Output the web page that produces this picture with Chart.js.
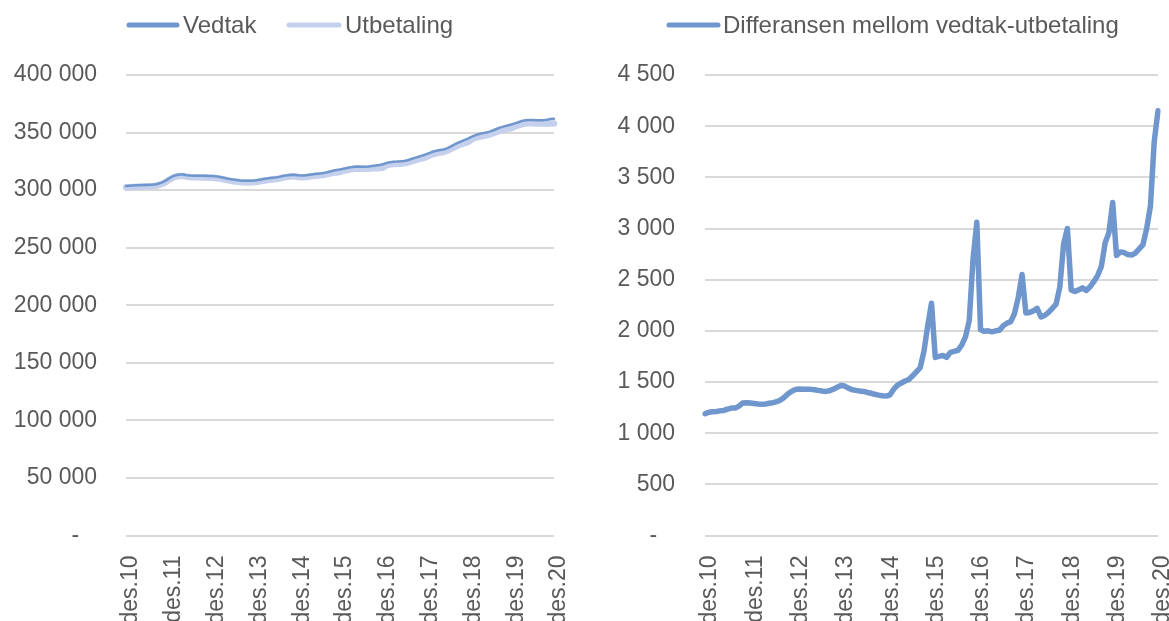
<!DOCTYPE html>
<html><head><meta charset="utf-8">
<script src="https://cdn.jsdelivr.net/npm/chart.js@4/dist/chart.umd.min.js"></script>
<style>
html,body{margin:0;padding:0;background:#fff;overflow:hidden;width:1169px;height:621px;}
#c1{position:absolute;left:0;top:0;}
#c2{position:absolute;left:584px;top:0;}
</style></head><body>
<canvas id="c1" width="584" height="621"></canvas>
<canvas id="c2" width="585" height="621"></canvas>
<script>
// ---- categories ----
const monthNames = ['jan','feb','mar','apr','mai','jun','jul','aug','sep','okt','nov','des'];
const years = ['11','12','13','14','15','16','17','18','19','20'];
const categories = ['des.10'];
years.forEach(y => monthNames.forEach(m => categories.push(m + '.' + y)));

// ---- series (monthly, des.10 .. des.20) ----
const vedtak = [
303500,303800,304000,304200,304300,304400,304500,304600,304800,305500,306500,308000,
310000,311800,313000,313600,313500,313000,312700,312500,312400,312400,312400,312300,
312200,312000,311600,311000,310300,309700,309200,308800,308400,308200,308100,308200,
308400,308800,309300,309800,310300,310700,311000,311500,312200,312800,313200,313400,
313000,312600,312700,313100,313600,314000,314300,314600,315200,316000,316800,317400,
318000,318600,319200,319800,320300,320500,320400,320300,320500,320900,321300,321800,
322500,323500,324300,324700,324800,325000,325300,326000,327000,328000,329000,330000,
331000,332200,333300,334200,334800,335300,336300,337800,339500,341000,342400,343600,
345000,346500,347800,348800,349500,350000,350800,352000,353300,354500,355400,356200,
357000,358000,359000,360000,360700,361000,360900,360700,360700,360800,361200,361700,
362000];
const utbetaling = [
302310,302600,302790,302990,303080,303180,303270,303360,303560,304240,305210,306700,
308710,310510,311720,312320,312220,311710,311400,311190,311080,311050,311020,310890,
310770,310570,310170,309570,308870,308280,307780,307390,306990,306790,306670,306750,
306940,307340,307860,308380,308880,309290,309590,310100,310810,311420,311830,312040,
311640,311230,311270,311630,312110,312490,312780,313040,313600,314360,315000,315350,
315730,316860,317450,318040,318560,318710,318600,318490,318640,318960,319200,319100,
319440,321490,322310,322700,322810,323000,323300,323950,324930,325910,326830,327670,
328450,330030,331120,332010,332580,333170,334150,335620,337280,338740,339970,340750,
342000,344100,345420,346400,347080,347610,348370,349520,350760,351870,352540,353240,
353750,355270,356230,357240,357960,358260,358140,357900,357860,357800,357980,357850,
357850];
const differanse = [
1190,1205,1210,1212,1218,1222,1235,1245,1245,1265,1295,1298,
1295,1290,1285,1282,1285,1292,1298,1308,1325,1350,1385,1410,
1428,1432,1430,1430,1428,1425,1418,1412,1408,1415,1430,1448,
1465,1460,1440,1425,1418,1412,1408,1398,1390,1380,1372,1365,
1362,1375,1430,1470,1490,1510,1525,1560,1600,1640,1800,2050,
2270,1740,1750,1760,1740,1790,1800,1810,1860,1940,2100,2700,
3060,2010,1995,2000,1990,2000,2005,2050,2075,2090,2170,2330,
2550,2175,2180,2195,2220,2135,2150,2180,2220,2260,2430,2850,
3000,2400,2385,2400,2420,2395,2430,2480,2540,2630,2860,2960,
3255,2735,2770,2765,2745,2740,2760,2800,2840,3000,3220,3850,
4150];

// ---- axis ticks ----
const leftTicks = [0,50000,100000,150000,200000,250000,300000,350000,400000];
const rightTicks = [0,500,1000,1500,2000,2500,3000,3500,4000,4500];
const xTickLabels = ['des.10','des.11','des.12','des.13','des.14','des.15','des.16','des.17','des.18','des.19','des.20'];

const FONT = "'Liberation Sans', Arial, sans-serif";
const FS = 23;
const LFS = 24;
const TEXT = '#595959';
const GRID = '#D9D9D9';
const BLUE = '#7096CE';
const LIGHT = '#C5D0EC';

function fmt(v){
  if (v === 0) return '-\u2002 ';
  return String(v).replace(/\B(?=(\d{3})+(?!\d))/g, '\u00a0');
}

const legendPlugin = {
  id: 'customLegend',
  afterDraw(chart, args, opts) {
    const ctx = chart.ctx;
    ctx.save();
    ctx.font = LFS + 'px ' + FONT;
    ctx.textBaseline = 'middle';
    ctx.textAlign = 'left';
    opts.items.forEach(it => {
      const ds = chart.data.datasets[it.dataset];
      ctx.strokeStyle = ds.borderColor;
      ctx.lineWidth = 5;
      ctx.lineCap = 'round';
      ctx.beginPath(); ctx.moveTo(it.x0, opts.y); ctx.lineTo(it.x1, opts.y); ctx.stroke();
      ctx.fillStyle = TEXT;
      ctx.fillText(ds.label, it.tx, opts.y + 1);
    });
    ctx.restore();
  }
};

function makeOptions(cfg) {
  return {
    responsive: false,
    animation: false,
    devicePixelRatio: 1,
    layout: { padding: { left: 0, right: cfg.padRight, top: 75, bottom: 0 } },
    plugins: {
      legend: { display: false },
      tooltip: { enabled: false },
      customLegend: { y: 25, items: cfg.legendItems }
    },
    elements: { point: { radius: 0 }, line: { tension: 0, borderJoinStyle: 'round', borderCapStyle: 'round' } },
    scales: {
      x: {
        type: 'category',
        offset: false,
        grid: { display: false, drawTicks: false },
        border: { display: false },
        afterFit: s => { s.height = 85.5; s.paddingLeft = 0; s.paddingRight = 0; },
        ticks: {
          autoSkip: false,
          minRotation: 90, maxRotation: 90,
          padding: 20,
          labelOffset: 5,
          color: TEXT,
          font: { family: FONT, size: FS },
          callback: function(val, idx) {
            const l = this.getLabelForValue(val);
            return xTickLabels.includes(l) ? l : '';
          }
        }
      },
      y: {
        min: 0, max: cfg.max,
        afterFit: s => { s.width = cfg.yWidth; },
        afterBuildTicks: s => { s.ticks = cfg.ticks.map(v => ({ value: v })); },
        grid: { color: GRID, lineWidth: 2, drawTicks: false },
        border: { display: false },
        ticks: {
          padding: cfg.tickPad,
          color: TEXT,
          font: { family: FONT, size: FS },
          callback: v => fmt(v)
        }
      }
    }
  };
}

new Chart(document.getElementById('c1'), {
  type: 'line',
  data: {
    labels: categories,
    datasets: [
      { label: 'Vedtak', data: vedtak, borderColor: BLUE, backgroundColor: BLUE, borderWidth: 2.5, fill: false },
      { label: 'Utbetaling', data: utbetaling, borderColor: LIGHT, backgroundColor: LIGHT, borderWidth: 6.5, fill: false }
    ]
  },
  options: makeOptions({
    padRight: 30, yWidth: 126, tickPad: 29, max: 400000, ticks: leftTicks,
    legendItems: [ { dataset: 0, x0: 129, x1: 177, tx: 183 }, { dataset: 1, x0: 289, x1: 339, tx: 345 } ]
  }),
  plugins: [legendPlugin]
});

new Chart(document.getElementById('c2'), {
  type: 'line',
  data: {
    labels: categories,
    datasets: [
      { label: 'Differansen mellom vedtak-utbetaling', data: differanse, borderColor: BLUE, backgroundColor: BLUE, borderWidth: 5.5, fill: false }
    ]
  },
  options: makeOptions({
    padRight: 11, yWidth: 121, tickPad: 30, max: 4500, ticks: rightTicks,
    legendItems: [ { dataset: 0, x0: 85, x1: 134, tx: 139 } ]
  }),
  plugins: [legendPlugin]
});
</script>
</body></html>
